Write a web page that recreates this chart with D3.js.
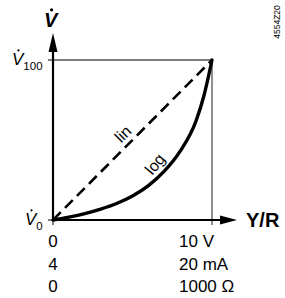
<!DOCTYPE html>
<html>
<head>
<meta charset="utf-8">
<script src="https://cdn.jsdelivr.net/npm/d3@7"></script>
<style>
  body { margin: 0; background: #fff; }
  text { font-family: "Liberation Sans", Arial, sans-serif; fill: #000; }
</style>
</head>
<body>
<svg width="285" height="298"></svg>
<script>
// stroke (% of travel) vs. flow (% of V100)
const stroke = [0, 10, 20, 30, 40, 50, 60, 70, 80, 90, 95, 100];
const linFlow = [0, 100];
const linStroke = [0, 100];
const logFlow = [0, 1.8, 4, 6.8, 10.3, 15, 21.5, 30.5, 43, 62, 78, 100];
const leftTicks = ['0', '4', '0'];
const rightTicks = ['10 V', '20 mA', '1000 \u03A9'];

const svg = d3.select('svg');

const x = d3.scaleLinear().domain([0, 100]).range([53, 212]);
const y = d3.scaleLinear().domain([0, 100]).range([220, 60]);

// frame lines
svg.append('line')
  .attr('x1', x(0)).attr('x2', x(100))
  .attr('y1', y(100)).attr('y2', y(100))
  .attr('stroke', '#000').attr('stroke-width', 1.2);
svg.append('line')
  .attr('x1', x(100)).attr('x2', x(100))
  .attr('y1', y(100)).attr('y2', y(0) + 5)
  .attr('stroke', '#444').attr('stroke-width', 1.2);

// ticks at origin / V100
svg.append('line')
  .attr('x1', x(0) - 5).attr('x2', x(0))
  .attr('y1', y(100)).attr('y2', y(100))
  .attr('stroke', '#000').attr('stroke-width', 1);
svg.append('line')
  .attr('x1', x(0) - 5).attr('x2', x(0))
  .attr('y1', y(0)).attr('y2', y(0))
  .attr('stroke', '#555').attr('stroke-width', 1.5);
svg.append('line')
  .attr('x1', x(0)).attr('x2', x(0))
  .attr('y1', y(0)).attr('y2', y(0) + 5)
  .attr('stroke', '#555').attr('stroke-width', 1.5);

// axes
svg.append('line')
  .attr('x1', x(0)).attr('x2', x(0))
  .attr('y1', y(0)).attr('y2', 50)
  .attr('stroke', '#000').attr('stroke-width', 2.2);
svg.append('path')
  .attr('d', `M${x(0)},33 L${x(0) - 4.5},52 L${x(0) + 4.5},52 Z`)
  .attr('fill', '#000');
svg.append('line')
  .attr('x1', x(0)).attr('x2', 222)
  .attr('y1', y(0)).attr('y2', y(0))
  .attr('stroke', '#000').attr('stroke-width', 2.2);
svg.append('path')
  .attr('d', `M237,${y(0)} L220,${y(0) - 4.5} L220,${y(0) + 4.5} Z`)
  .attr('fill', '#000');

// lin
svg.append('path')
  .datum(linStroke.map((s, i) => [s, linFlow[i]]))
  .attr('fill', 'none')
  .attr('stroke', '#000')
  .attr('stroke-width', 2.6)
  .attr('stroke-dasharray', '11,6')
  .attr('d', d3.line().x(d => x(d[0])).y(d => y(d[1])));

// log
svg.append('path')
  .datum(stroke.map((s, i) => [s, logFlow[i]]))
  .attr('fill', 'none')
  .attr('stroke', '#000')
  .attr('stroke-width', 3.4)
  .attr('stroke-linecap', 'round')
  .attr('d', d3.line().curve(d3.curveMonotoneX).x(d => x(d[0])).y(d => y(d[1])));

svg.append('text')
  .attr('transform', 'translate(123,134) rotate(-45)')
  .attr('text-anchor', 'middle').attr('dominant-baseline', 'central')
  .attr('font-size', 16).text('lin');
svg.append('text')
  .attr('transform', 'translate(155,164) rotate(-50)')
  .attr('text-anchor', 'middle').attr('dominant-baseline', 'central')
  .attr('font-size', 16).text('log');

// V dot labels
const vLabel = (vx, vy, size, bold, sub, subSize) => {
  const t = svg.append('text')
    .attr('x', vx).attr('y', vy)
    .attr('font-size', size)
    .attr('font-style', 'italic')
    .attr('font-weight', bold ? 'bold' : 'normal');
  t.append('tspan').text('V');
  if (sub) t.append('tspan').attr('font-style', 'normal').attr('font-size', subSize).attr('dy', 5).text(sub);
  svg.append('circle')
    .attr('cx', vx + size * 0.38).attr('cy', vy - size * 0.86)
    .attr('r', bold ? 1.6 : 1.1).attr('fill', '#000');
};
vLabel(44, 27, 20, true, null);
vLabel(12, 65, 17, false, '100', 11.5);
vLabel(25, 225, 17, false, '0', 11.5);

svg.append('text')
  .attr('x', 246).attr('y', 227)
  .attr('font-size', 20).attr('font-weight', 'bold')
  .text('Y/R');

svg.selectAll('.lt').data(leftTicks).enter().append('text')
  .attr('class', 'lt')
  .attr('x', x(0)).attr('y', (d, i) => 247 + i * 22.5)
  .attr('text-anchor', 'middle').attr('font-size', 17)
  .text(d => d);
svg.selectAll('.rt').data(rightTicks).enter().append('text')
  .attr('class', 'rt')
  .attr('x', 179).attr('y', (d, i) => 247 + i * 22.5)
  .attr('font-size', 17)
  .text(d => d);

svg.append('text')
  .attr('transform', 'translate(280,22) rotate(-90)')
  .attr('text-anchor', 'middle').attr('font-size', 8.5)
  .text('4554Z20');
</script>
</body>
</html>
